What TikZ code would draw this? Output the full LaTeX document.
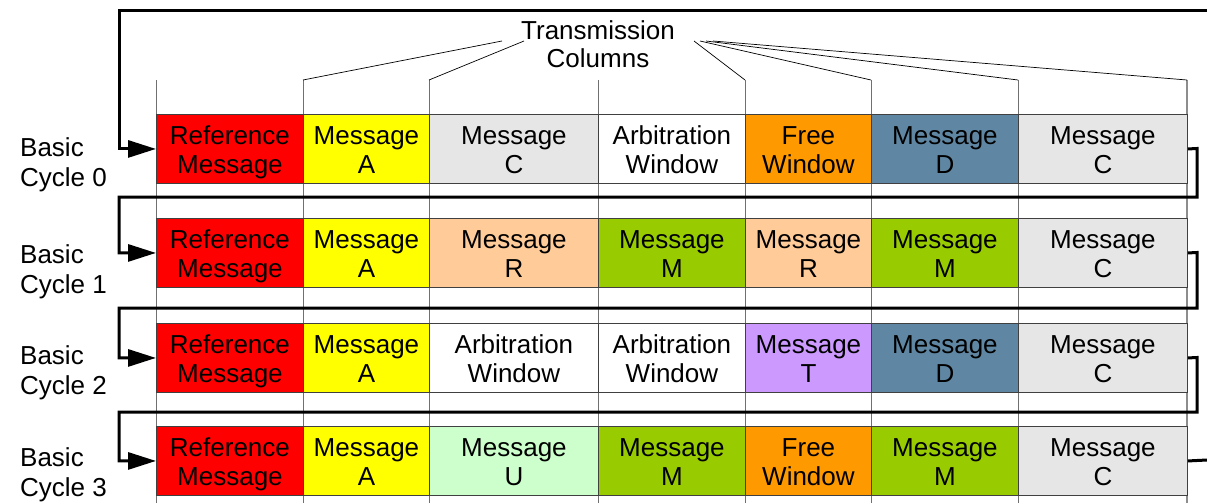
\documentclass[tikz,border=0pt]{standalone}
\usepackage{fontspec}
\setmainfont{Liberation Sans}
\usetikzlibrary{arrows.meta}
\definecolor{cred}{HTML}{FF0000}
\definecolor{cyellow}{HTML}{FFFF00}
\definecolor{clgray}{HTML}{E6E6E6}
\definecolor{corange}{HTML}{FF9900}
\definecolor{csteel}{HTML}{5F87A3}
\definecolor{cpeach}{HTML}{FFCC99}
\definecolor{cgreen}{HTML}{99CC00}
\definecolor{cpurple}{HTML}{CC99FF}
\definecolor{cmint}{HTML}{CCFFCC}
\definecolor{cborder}{HTML}{404040}
\definecolor{cgrid}{HTML}{707070}
\newcommand\twoline[2]{\rule{0pt}{26pt}#1\\#2\rule[-5.5pt]{0pt}{0pt}}
\begin{document}
\begin{tikzpicture}[x=1pt,y=-1pt,
  cell/.style={draw=cborder, line width=0.9pt, minimum height=69pt, inner sep=0pt,
    align=center, anchor=north west, font=\fontsize{26}{28.5}\selectfont},
  wA/.style={cell, minimum width=147pt},
  wB/.style={cell, minimum width=126pt},
  wC/.style={cell, minimum width=169pt},
  gridline/.style={draw=cgrid, line width=0.9pt},
  callout/.style={draw=black, line width=0.7pt},
  loopline/.style={draw=black, line width=3pt, line join=miter},
  looparrow/.style={loopline, -{Triangle[length=28pt,width=17pt]}},
  cyclelabel/.style={anchor=west, align=left, inner sep=0pt, font=\fontsize{26}{30}\selectfont},
  toplabel/.style={align=center, inner sep=0pt, font=\fontsize{26}{28.5}\selectfont}
]
\useasboundingbox (0,0) rectangle (1207,503);

% column grid lines
\foreach \x/\n in {156/0,303/1,429/2,598/3,745/4,871/5,1018/6} {
  \coordinate (top\n) at (\x,80);
  \draw[gridline] (\x,80) -- (\x,503);
}
\coordinate (top7) at (1187,80);
\draw[draw=cgrid!80, line width=1.6pt] (1187,80) -- (1187,503);

% row 0
\node[wA, fill=cred]    (r0c0) at (156,114) {\twoline{Reference}{Message}};
\node[wB, fill=cyellow] (r0c1) at (303,114) {\twoline{Message}{A}};
\node[wC, fill=clgray]  (r0c2) at (429,114) {\twoline{Message}{C}};
\node[wA, fill=white]   (r0c3) at (598,114) {\twoline{Arbitration}{Window}};
\node[wB, fill=corange] (r0c4) at (745,114) {\twoline{Free}{Window}};
\node[wA, fill=csteel]  (r0c5) at (871,114) {\twoline{Message}{D}};
\node[wC, fill=clgray]  (r0c6) at (1018,114) {\twoline{Message}{C}};
% row 1
\node[wA, fill=cred]    (r1c0) at (156,218) {\twoline{Reference}{Message}};
\node[wB, fill=cyellow] (r1c1) at (303,218) {\twoline{Message}{A}};
\node[wC, fill=cpeach]  (r1c2) at (429,218) {\twoline{Message}{R}};
\node[wA, fill=cgreen]  (r1c3) at (598,218) {\twoline{Message}{M}};
\node[wB, fill=cpeach]  (r1c4) at (745,218) {\twoline{Message}{R}};
\node[wA, fill=cgreen]  (r1c5) at (871,218) {\twoline{Message}{M}};
\node[wC, fill=clgray]  (r1c6) at (1018,218) {\twoline{Message}{C}};
% row 2
\node[wA, fill=cred]    (r2c0) at (156,323) {\twoline{Reference}{Message}};
\node[wB, fill=cyellow] (r2c1) at (303,323) {\twoline{Message}{A}};
\node[wC, fill=white]   (r2c2) at (429,323) {\twoline{Arbitration}{Window}};
\node[wA, fill=white]   (r2c3) at (598,323) {\twoline{Arbitration}{Window}};
\node[wB, fill=cpurple] (r2c4) at (745,323) {\twoline{Message}{T}};
\node[wA, fill=csteel]  (r2c5) at (871,323) {\twoline{Message}{D}};
\node[wC, fill=clgray]  (r2c6) at (1018,323) {\twoline{Message}{C}};
% row 3
\node[wA, fill=cred]    (r3c0) at (156,426) {\twoline{Reference}{Message}};
\node[wB, fill=cyellow] (r3c1) at (303,426) {\twoline{Message}{A}};
\node[wC, fill=cmint]   (r3c2) at (429,426) {\twoline{Message}{U}};
\node[wA, fill=cgreen]  (r3c3) at (598,426) {\twoline{Message}{M}};
\node[wB, fill=corange] (r3c4) at (745,426) {\twoline{Free}{Window}};
\node[wA, fill=cgreen]  (r3c5) at (871,426) {\twoline{Message}{M}};
\node[wC, fill=clgray]  (r3c6) at (1018,426) {\twoline{Message}{C}};

% cycle labels
\node[cyclelabel] (b0) at (20,165) {Basic\\Cycle 0};
\node[cyclelabel] (b1) at (20,272) {Basic\\Cycle 1};
\node[cyclelabel] (b2) at (20,373) {Basic\\Cycle 2};
\node[cyclelabel] (b3) at (20,475) {Basic\\Cycle 3};

% transmission columns label and callouts
\node[toplabel] (tc) at (598,44) {Transmission\\Columns};
\coordinate (s1) at (502,41);
\coordinate (s2) at (524,41);
\coordinate (s4) at (694,41);
\coordinate (s5) at (700,41);
\coordinate (s6) at (706,41);
\coordinate (s7) at (713,41);
\draw[callout] (s1) -- (top1);
\draw[callout] (s2) -- (top2);
\draw[callout] (s4) -- (top4);
\draw[callout] (s5) -- (top5);
\draw[callout] (s6) -- (top6);
\draw[callout] (s7) -- (top7);

% cycle loop connectors
\coordinate (entry) at (1207,11);
\coordinate (exit) at (1207,460);
\draw[looparrow] (entry) -- (119,11) |- (r0c0.west);
\draw[looparrow] (r0c6.east) -- (1197,148.5) |- (119,197) |- (r1c0.west);
\draw[looparrow] (r1c6.east) -- (1197,252.5) |- (119,308) |- (r2c0.west);
\draw[looparrow] (r2c6.east) -- (1197,357.5) |- (119,412) |- (r3c0.west);
\draw[loopline] (r3c6.east) -- (exit);
\end{tikzpicture}
\end{document}
